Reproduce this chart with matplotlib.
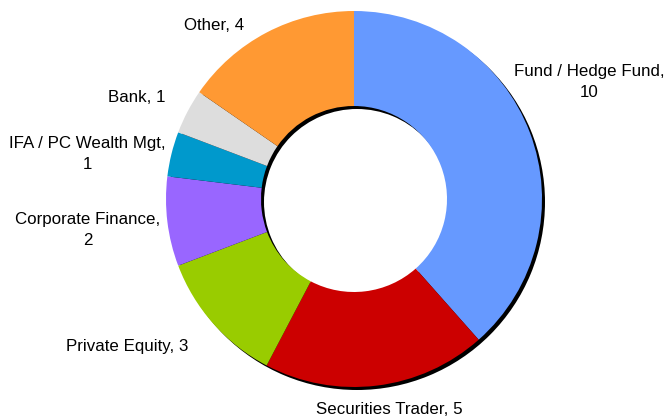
import matplotlib
matplotlib.use("Agg")
import matplotlib.pyplot as plt

# data
categories = ["Fund / Hedge Fund", "Securities Trader", "Private Equity",
              "Corporate Finance", "IFA / PC Wealth Mgt", "Bank", "Other"]
counts = [10, 5, 3, 2, 1, 1, 4]
colors = ["#6699FF", "#CC0000", "#99CC00", "#9966FF", "#0099CC", "#DDDDDD", "#FF9933"]

# label text and where it sits (pixel coords, y from top)
label_text = ["Fund / Hedge Fund,\n10", "Securities Trader, 5", "Private Equity, 3",
              "Corporate Finance,\n2", "IFA / PC Wealth Mgt,\n1", "Bank, 1", "Other, 4"]
label_pos = [(589, 82), (389, 409), (127, 346), (88, 230), (87, 154), (137, 97), (214, 25)]

W, H = 664, 419
plt.rcParams['font.family'] = ['Liberation Sans', 'DejaVu Sans']

fig = plt.figure(figsize=(W / 100, H / 100), dpi=100)
ax = fig.add_axes([0, 0, 1, 1])

cx, cy = 354, H - 199
r_out = 188
ring = 188 - 93

# shadow ring, offset down-right
ax.pie([sum(counts)], colors=['black'], radius=r_out, center=(cx + 3, cy - 3),
       wedgeprops=dict(width=ring, linewidth=0), frame=True)

ax.pie(counts, colors=colors, radius=r_out, center=(cx, cy), startangle=90,
       counterclock=False, wedgeprops=dict(width=ring, linewidth=0), frame=True)

ax.set_xlim(0, W)
ax.set_ylim(0, H)
ax.axis('off')

for txt, (x, y) in zip(label_text, label_pos):
    ax.text(x, H - y, txt, ha='center', va='center', fontsize=12.2,
            linespacing=1.5, multialignment='center', color='black')

fig.savefig("out.png", dpi=100)
